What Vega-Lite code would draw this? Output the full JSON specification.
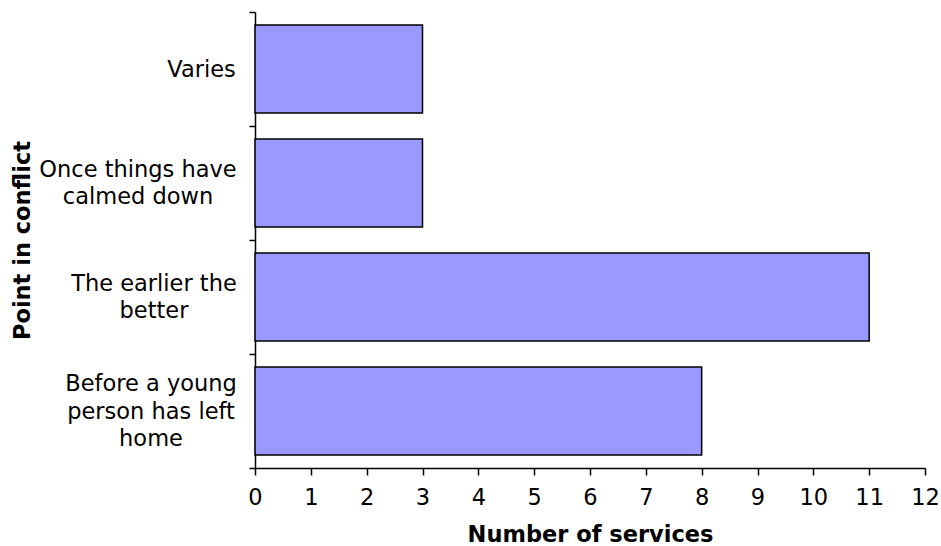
{
  "$schema": "https://vega.github.io/schema/vega-lite/v6.json",
  "autosize": "none",
  "width": 670,
  "height": 456,
  "padding": {"left": 255, "top": 12, "right": 16, "bottom": 78},
  "background": "white",
  "config": {
    "view": {"stroke": null},
    "font": "DejaVu Sans",
    "axis": {
      "labelFont": "DejaVu Sans",
      "titleFont": "DejaVu Sans",
      "labelColor": "black",
      "titleColor": "black",
      "domainColor": "black",
      "tickColor": "black",
      "domainWidth": 1.5,
      "tickWidth": 1.5,
      "grid": false
    }
  },
  "data": {
    "values": [
      {"point": "Varies", "services": 3},
      {"point": "Once things have calmed down", "services": 3},
      {"point": "The earlier the better", "services": 11},
      {"point": "Before a young person has left home", "services": 8}
    ]
  },
  "mark": {
    "type": "bar",
    "fill": "#9999ff",
    "stroke": "black",
    "strokeWidth": 1.5,
    "height": {"band": 0.774}
  },
  "encoding": {
    "y": {
      "field": "point",
      "type": "nominal",
      "sort": null,
      "scale": {"paddingInner": 0, "paddingOuter": 0},
      "axis": {
        "title": "Point in conflict",
        "titleFontSize": 22.5,
        "titleFontWeight": "bold",
        "titleAngle": -90,
        "titleX": -233,
        "titleY": 228,
        "titleBaseline": "middle",
        "titleAlign": "center",
        "tickBand": "extent",
        "tickSize": 6,
        "labelFontSize": 22.5,
        "labelLineHeight": 27.5,
        "labelAlign": "center",
        "labelBaseline": "middle",
        "labelLimit": 400,
        "labelPadding": {
          "condition": [
            {"test": "datum.value === 'Varies'", "value": 48},
            {"test": "datum.value === 'Once things have calmed down'", "value": 111.5},
            {"test": "datum.value === 'The earlier the better'", "value": 95.5}
          ],
          "value": 98.5
        },
        "labelOffset": {
          "condition": [
            {"test": "datum.value === 'Once things have calmed down' || datum.value === 'The earlier the better'", "value": -13.75},
            {"test": "datum.value === 'Before a young person has left home'", "value": -27.5}
          ],
          "value": 0
        },
        "labelExpr": "datum.value === 'Once things have calmed down' ? ['Once things have', 'calmed down'] : datum.value === 'The earlier the better' ? ['The earlier the', 'better'] : datum.value === 'Before a young person has left home' ? ['Before a young', 'person has left', 'home'] : datum.value"
      }
    },
    "x": {
      "field": "services",
      "type": "quantitative",
      "scale": {"domain": [0, 12], "nice": false},
      "axis": {
        "title": "Number of services",
        "titleFontSize": 22.5,
        "titleFontWeight": "bold",
        "titlePadding": 15,
        "values": [0, 1, 2, 3, 4, 5, 6, 7, 8, 9, 10, 11, 12],
        "tickSize": 7,
        "labelFontSize": 22.5,
        "labelPadding": 11,
        "labelFlush": false,
        "labelOverlap": false
      }
    }
  }
}
